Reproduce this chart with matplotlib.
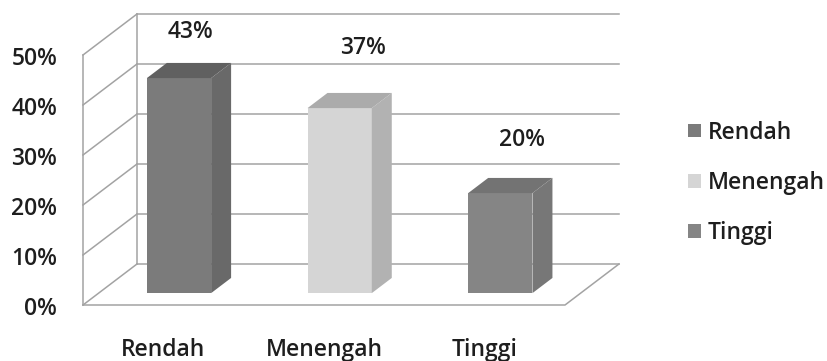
import matplotlib.pyplot as plt
from matplotlib.patches import Polygon, Rectangle

# category values (percent)
categories = ['Rendah', 'Menengah', 'Tinggi']
values = [43, 37, 20]
ticks = [0, 10, 20, 30, 40, 50]

front_colors = ['#7b7b7b', '#d5d5d5', '#858585']
side_colors = ['#696969', '#b2b2b2', '#777777']
top_colors = ['#606060', '#ababab', '#737373']

# label nudges (x, y) relative to the bar top
nudges = [(0.17, 11.6), (0.24, 14.4), (0.23, 13.0)]

DX, DY = 0.336, 8.2      # depth vector in data units
Z0, Z1 = 0.29, 0.66      # front / back depth of the bars
W = 0.4                  # bar width
grid_col = '#a3a3a3'
txt_col = '#1e1e1e'
FONT = 'Open Sans'
FS = 16.5
WT = 'semibold'

fig = plt.figure(figsize=(8.27, 3.61), dpi=100)
ax = fig.add_axes([83 / 827, 56 / 361, (565 + 54 - 83) / 827, (50 * 5 + 41) / 361])
ax.set_xlim(-0.5, 2.5 + DX)
ax.set_ylim(0, 50 + DY)
ax.axis('off')

x0, x1 = -0.5, len(categories) - 0.5

# walls and floor
for t in ticks:
    ax.plot([x0 + DX, x1 + DX], [t + DY, t + DY], color=grid_col, lw=1.1, zorder=1, clip_on=False)
    ax.plot([x0, x0 + DX], [t, t + DY], color=grid_col, lw=1.1, zorder=1, clip_on=False)
ax.plot([x0, x0], [0, 50], color=grid_col, lw=1.1, zorder=1, clip_on=False)
ax.plot([x0 + DX, x0 + DX], [DY, 50 + DY], color=grid_col, lw=1.1, zorder=1, clip_on=False)
ax.plot([x0, x1, x1 + DX], [0, 0, DY], color=grid_col, lw=1.1, zorder=1, clip_on=False)

# 3d bars
for i, v in enumerate(values):
    left = i - W / 2 + Z0 * DX
    base = Z0 * DY
    d = (Z1 - Z0)
    ax.add_patch(Rectangle((left, base), W, v, facecolor=front_colors[i], edgecolor='none', zorder=3))
    ax.add_patch(Polygon([(left + W, base), (left + W + d * DX, base + d * DY),
                          (left + W + d * DX, base + v + d * DY), (left + W, base + v)],
                         facecolor=side_colors[i], edgecolor='none', zorder=3))
    ax.add_patch(Polygon([(left, base + v), (left + W, base + v),
                          (left + W + d * DX, base + v + d * DY), (left + d * DX, base + v + d * DY)],
                         facecolor=top_colors[i], edgecolor='none', zorder=3))
    nx, ny = nudges[i]
    ax.text(i + nx, v + ny, f'{v}%', ha='center', va='center', fontsize=FS, weight=WT,
            family=FONT, color=txt_col, clip_on=False)
    ax.text(i, -8.9, categories[i], ha='center', va='center', fontsize=FS, weight=WT,
            family=FONT, color=txt_col, clip_on=False)

# y tick labels
for t in ticks:
    ax.text(x0 - 0.16, t - 0.8, f'{t}%', ha='right', va='center', fontsize=FS, weight=WT,
            family=FONT, color=txt_col, clip_on=False)

# legend
handles = [Rectangle((0, 0), 1, 1, facecolor=c, edgecolor='none') for c in front_colors]
fig.legend(handles, categories, loc='center left', bbox_to_anchor=(677 / 827, 1 - 183 / 361),
           frameon=False, prop={'family': FONT, 'size': FS, 'weight': WT},
           handlelength=0.55, handleheight=0.55, handletextpad=0.3, labelspacing=1.15,
           borderpad=0, labelcolor=txt_col)

fig.savefig('out.png', dpi=100)
